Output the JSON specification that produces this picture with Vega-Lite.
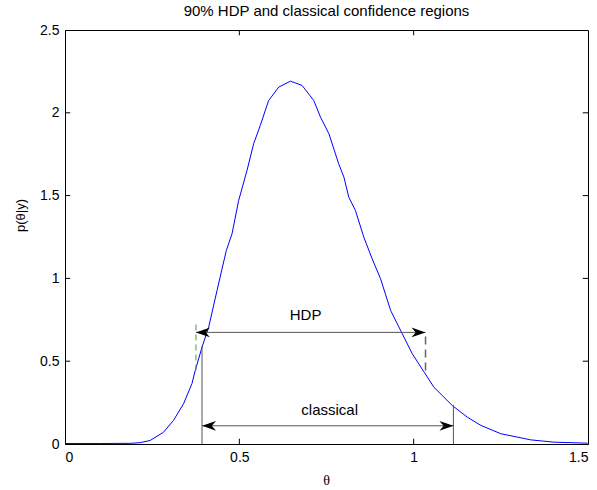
{
  "$schema": "https://vega.github.io/schema/vega-lite/v6.json",
  "width": 523,
  "height": 414,
  "autosize": "none",
  "padding": {"left": 65, "top": 30, "right": 9, "bottom": 46},
  "background": "white",
  "title": {
    "text": "90% HDP and classical confidence regions",
    "font": "Liberation Sans",
    "fontSize": 15,
    "fontWeight": "normal",
    "color": "black",
    "anchor": "middle",
    "offset": 4
  },
  "config": {
    "view": {"stroke": "black", "strokeWidth": 1},
    "axis": {
      "grid": false,
      "domainColor": "black",
      "labelFont": "Liberation Sans",
      "labelFontSize": 14,
      "labelColor": "black",
      "titleColor": "black",
      "titleFontWeight": "normal"
    }
  },
  "datasets": {
    "curve": [
      {"theta": 0.0, "p": 0.003},
      {"theta": 0.1, "p": 0.003},
      {"theta": 0.187, "p": 0.004},
      {"theta": 0.2155, "p": 0.008},
      {"theta": 0.244, "p": 0.021},
      {"theta": 0.2825, "p": 0.071},
      {"theta": 0.311, "p": 0.142},
      {"theta": 0.34, "p": 0.243},
      {"theta": 0.364, "p": 0.364},
      {"theta": 0.3736, "p": 0.444},
      {"theta": 0.393, "p": 0.585},
      {"theta": 0.412, "p": 0.705},
      {"theta": 0.436, "p": 0.927},
      {"theta": 0.4626, "p": 1.168},
      {"theta": 0.479, "p": 1.269},
      {"theta": 0.498, "p": 1.47},
      {"theta": 0.522, "p": 1.652},
      {"theta": 0.541, "p": 1.813},
      {"theta": 0.56, "p": 1.923},
      {"theta": 0.584, "p": 2.074},
      {"theta": 0.613, "p": 2.155},
      {"theta": 0.6466, "p": 2.191},
      {"theta": 0.68, "p": 2.165},
      {"theta": 0.7135, "p": 2.074},
      {"theta": 0.733, "p": 1.973},
      {"theta": 0.757, "p": 1.873},
      {"theta": 0.785, "p": 1.692},
      {"theta": 0.8, "p": 1.611},
      {"theta": 0.814, "p": 1.49},
      {"theta": 0.833, "p": 1.41},
      {"theta": 0.857, "p": 1.249},
      {"theta": 0.881, "p": 1.118},
      {"theta": 0.905, "p": 0.998},
      {"theta": 0.934, "p": 0.806},
      {"theta": 0.9675, "p": 0.665},
      {"theta": 0.996, "p": 0.545},
      {"theta": 1.03, "p": 0.434},
      {"theta": 1.058, "p": 0.343},
      {"theta": 1.111, "p": 0.232},
      {"theta": 1.154, "p": 0.162},
      {"theta": 1.193, "p": 0.112},
      {"theta": 1.25, "p": 0.062},
      {"theta": 1.336, "p": 0.025},
      {"theta": 1.403, "p": 0.011},
      {"theta": 1.499, "p": 0.005}
    ],
    "xticks": [{"v": 0.5}, {"v": 1}],
    "yticks": [{"v": 0.5}, {"v": 1}, {"v": 1.5}, {"v": 2}],
    "classicalVert": [
      {"theta": 0.393, "p0": 0, "p1": 0.59},
      {"theta": 1.114, "p0": 0, "p1": 0.236}
    ],
    "hdpVertLeft": [{"theta": 0.3756, "p0": 0.444, "p1": 0.74}],
    "hdpVertRight": [{"theta": 1.034, "p0": 0.444, "p1": 0.674}],
    "arrows": [
      {"name": "HDP", "t0": 0.3756, "t1": 1.034, "p": 0.674},
      {"name": "classical", "t0": 0.393, "t1": 1.114, "p": 0.11}
    ],
    "heads": [
      {"theta": 0.3756, "p": 0.674, "dir": "left"},
      {"theta": 1.034, "p": 0.674, "dir": "right"},
      {"theta": 0.393, "p": 0.11, "dir": "left"},
      {"theta": 1.114, "p": 0.11, "dir": "right"}
    ],
    "labels": [
      {"theta": 0.69, "p": 0.776, "text": "HDP"},
      {"theta": 0.759, "p": 0.208, "text": "classical"}
    ]
  },
  "layer": [
    {
      "data": {"name": "curve"},
      "mark": {"type": "line", "color": "#0000ff", "strokeWidth": 1},
      "encoding": {
        "x": {
          "field": "theta", "type": "quantitative",
          "scale": {"domain": [0, 1.5], "nice": false, "zero": false},
          "axis": {
            "orient": "bottom", "values": [0, 0.5, 1, 1.5], "format": "~g",
            "ticks": false, "labelPadding": 6,
            "title": "θ", "titleFont": "Liberation Serif", "titleFontSize": 14,
            "titleX": 261, "titleY": 36, "titleBaseline": "middle", "titleAnchor": null
          }
        },
        "y": {
          "field": "p", "type": "quantitative",
          "scale": {"domain": [0, 2.5], "nice": false},
          "axis": {
            "orient": "left", "values": [0, 0.5, 1, 1.5, 2, 2.5], "format": "~g",
            "ticks": false, "labelPadding": 6,
            "title": "p(θ|y)", "titleFont": "Liberation Sans", "titleFontSize": 13,
            "titleX": -45, "titleY": 185, "titleAngle": -90, "titleAlign": "center", "titleBaseline": "middle"
          }
        }
      }
    },
    {
      "data": {"name": "xticks"},
      "mark": {"type": "rule", "color": "black", "strokeWidth": 1},
      "encoding": {
        "x": {"field": "v", "type": "quantitative"},
        "y": {"datum": 0, "type": "quantitative"},
        "y2": {"datum": 0.032}
      }
    },
    {
      "data": {"name": "xticks"},
      "mark": {"type": "rule", "color": "black", "strokeWidth": 1},
      "encoding": {
        "x": {"field": "v", "type": "quantitative"},
        "y": {"datum": 2.468, "type": "quantitative"},
        "y2": {"datum": 2.5}
      }
    },
    {
      "data": {"name": "yticks"},
      "mark": {"type": "rule", "color": "black", "strokeWidth": 1},
      "encoding": {
        "y": {"field": "v", "type": "quantitative"},
        "x": {"datum": 0, "type": "quantitative"},
        "x2": {"datum": 0.015}
      }
    },
    {
      "data": {"name": "yticks"},
      "mark": {"type": "rule", "color": "black", "strokeWidth": 1},
      "encoding": {
        "y": {"field": "v", "type": "quantitative"},
        "x": {"datum": 1.485, "type": "quantitative"},
        "x2": {"datum": 1.5}
      }
    },
    {
      "mark": {"type": "rule", "color": "#1a9a1a", "strokeWidth": 1, "strokeDash": [6, 4]},
      "encoding": {
        "y": {"datum": 0.444, "type": "quantitative"}
      }
    },
    {
      "data": {"name": "hdpVertLeft"},
      "mark": {"type": "rule", "color": "#4a9a4a", "strokeWidth": 1, "strokeDash": [6, 4]},
      "encoding": {
        "x": {"field": "theta", "type": "quantitative"},
        "y": {"field": "p0", "type": "quantitative"},
        "y2": {"field": "p1"}
      }
    },
    {
      "data": {"name": "hdpVertRight"},
      "mark": {"type": "rule", "color": "#666666", "strokeWidth": 1.5, "strokeDash": [8, 5]},
      "encoding": {
        "x": {"field": "theta", "type": "quantitative"},
        "y": {"field": "p0", "type": "quantitative"},
        "y2": {"field": "p1"}
      }
    },
    {
      "data": {"name": "classicalVert"},
      "mark": {"type": "rule", "color": "#555555", "strokeWidth": 1},
      "encoding": {
        "x": {"field": "theta", "type": "quantitative"},
        "y": {"field": "p0", "type": "quantitative"},
        "y2": {"field": "p1"}
      }
    },
    {
      "data": {"name": "arrows"},
      "mark": {"type": "rule", "color": "#555555", "strokeWidth": 1},
      "encoding": {
        "x": {"field": "t0", "type": "quantitative"},
        "x2": {"field": "t1"},
        "y": {"field": "p", "type": "quantitative"}
      }
    },
    {
      "data": {"name": "heads"},
      "mark": {"type": "point", "filled": true, "color": "black", "opacity": 1, "size": 196, "strokeWidth": 0},
      "encoding": {
        "x": {"field": "theta", "type": "quantitative"},
        "y": {"field": "p", "type": "quantitative"},
        "shape": {
          "field": "dir", "type": "nominal", "legend": null,
          "scale": {
            "domain": ["left", "right"],
            "range": ["M 0 0 L 2 -0.7 L 1.4 0 L 2 0.7 Z", "M 0 0 L -2 -0.7 L -1.4 0 L -2 0.7 Z"]
          }
        }
      }
    },
    {
      "data": {"name": "labels"},
      "mark": {"type": "text", "font": "Liberation Sans", "fontSize": 15, "color": "black", "align": "center", "baseline": "middle"},
      "encoding": {
        "x": {"field": "theta", "type": "quantitative"},
        "y": {"field": "p", "type": "quantitative"},
        "text": {"field": "text"}
      }
    }
  ]
}
